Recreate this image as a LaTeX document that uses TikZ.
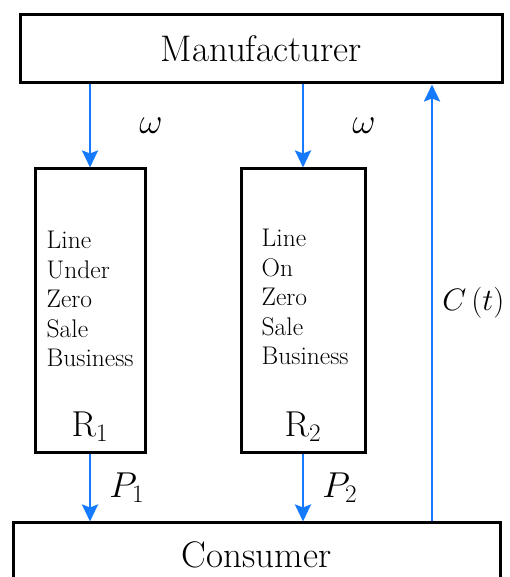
\RequirePackage{fix-cm}
\documentclass[tikz,border=0pt]{standalone}
\usepackage{tikz}
\usetikzlibrary{arrows.meta,positioning}
\definecolor{flowblue}{RGB}{22,122,255}
\tikzset{>={Stealth[length=17pt,width=16pt,inset=3pt]}}

\begin{document}
\begin{tikzpicture}[x=1pt,y=1pt,
    party/.style={draw,line width=3pt,inner sep=0pt},
    flow/.style={->,flowblue,line width=2.6pt},
    big/.style={font=\fontsize{37}{37}\selectfont},
    body/.style={font=\fontsize{25.5}{29.5}\selectfont,align=left,inner sep=0pt,anchor=west},
    sym/.style={font=\fontsize{36}{36}\selectfont,text=black,inner sep=0pt}]
    \useasboundingbox (0,0) rectangle (509,577);

    \node[party,big,minimum width=482,minimum height=68] (Man) at (261,528) {Manufacturer};
    \node[party,minimum width=110,minimum height=284] (R1) at (90,266) {};
    \node[party,minimum width=124,minimum height=284] (R2) at (303,266) {};
    \node[party,big,minimum width=487,minimum height=64] (Con) at (256.5,22) {Consumer};

    \node[body] (t1) at ([shift={(13,12)}]R1.west) {Line\\Under\\Zero\\Sale\\Business};
    \node[body] (t2) at ([shift={(22,14)}]R2.west) {Line\\On\\Zero\\Sale\\Business};
    \node[sym] (r1) at ([yshift=28]R1.south) {$\mathrm{R}_1$};
    \node[sym] (r2) at ([yshift=28]R2.south) {$\mathrm{R}_2$};

    \coordinate (cx) at (432,0);

    \draw[flow] (Man.south -| R1.north) -- (R1.north) node[midway,right=48pt,sym] {$\omega$};
    \draw[flow] (Man.south -| R2.north) -- (R2.north) node[midway,right=48pt,sym] {$\omega$};
    \draw[flow] (R1.south) -- (Con.north -| R1.south) node[midway,right=18pt,sym] {$P_1$};
    \draw[flow] (R2.south) -- (Con.north -| R2.south) node[midway,right=18pt,sym] {$P_2$};
    \draw[flow] (Con.north -| cx) -- (Man.south -| cx) node[midway,right=9pt,sym,font=\fontsize{31}{31}\selectfont] {$C\,(t)$};
\end{tikzpicture}
\end{document}
